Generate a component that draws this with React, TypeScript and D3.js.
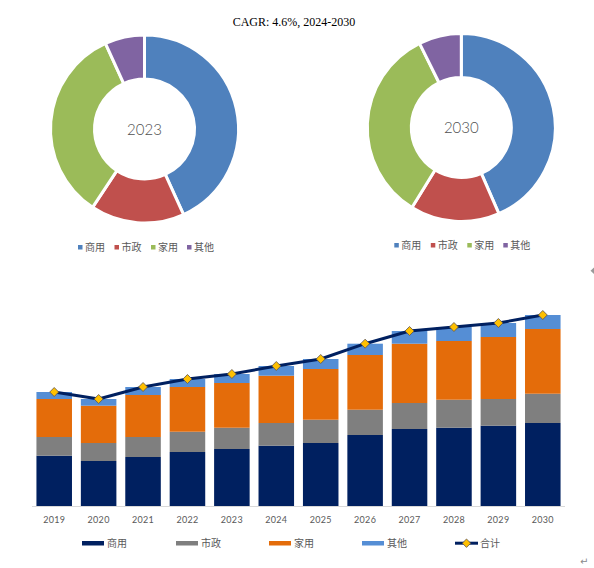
import React from "react";
import * as d3 from "d3";

const years = ["2019","2020","2021","2022","2023","2024","2025","2026","2027","2028","2029","2030"];
const commercial = [50.3, 45, 49, 54, 57, 60.3, 63, 71, 77, 78.3, 80.3, 83];
const municipal = [18.7, 18, 20, 20.3, 21.3, 22.7, 23.3, 25.3, 26, 28, 26.7, 29.3];
const household = [38, 37.3, 42, 44.7, 44.7, 47.3, 50.7, 54.7, 59.3, 58.7, 62, 64.7];
const others = [7, 6.7, 8, 8, 9, 9.7, 10, 11.3, 12.7, 14, 14, 14];
const seriesNames = ["商用", "市政", "家用", "其他"];
const totalName = "合计";
const title = "CAGR: 4.6%, 2024-2030";
const donutYears = ["2023", "2030"];

const barColors = ["#002060", "#7F7F7F", "#E46C0A", "#558ED5"];
const donutColors = ["#4F81BD", "#C0504D", "#9BBB59", "#8064A2"];

export default function App() {
  const series = [commercial, municipal, household, others];
  const totals = years.map((_, i) => series.reduce((s, a) => s + a[i], 0));

  const x = d3.scaleBand<string>().domain(years).range([32, 565]).paddingInner(0.2).paddingOuter(0.1);
  const y = d3.scaleLinear().domain([0, 200]).range([506, 306]);

  const rows = years.map((yr, i) => ({ yr, v: series.map(s => s[i]) }));
  const stack = d3.stack<any>().keys([0, 1, 2, 3] as any).value((d: any, k: any) => d.v[k]);
  const stacked = stack(rows);

  const line = d3.line<number>().x((_, i) => x(years[i])! + x.bandwidth() / 2).y(d => y(d));

  const pie = d3.pie<number>().sort(null).value(d => d);
  const arc = d3.arc<d3.PieArcDatum<number>>().innerRadius(50).outerRadius(94);

  const donuts = [
    { cx: 144.5, cy: 129, idx: years.indexOf(donutYears[0]), label: donutYears[0], legendX: 80, legendY: 247 },
    { cx: 461.3, cy: 127.5, idx: years.indexOf(donutYears[1]), label: donutYears[1], legendX: 396.3, legendY: 245 },
  ];
  const donutLegendOffsets = [0, 36.5, 73, 109];

  const bottomLegend = [
    { x: 82, name: seriesNames[0], color: barColors[0] },
    { x: 176, name: seriesNames[1], color: barColors[1] },
    { x: 269, name: seriesNames[2], color: barColors[2] },
    { x: 362, name: seriesNames[3], color: barColors[3] },
  ];

  return (
    <svg width={594} height={568} style={{ position: "absolute", left: 0, top: 0, background: "#fff" }}>
      <text x={294} y={26} textAnchor="middle" fontFamily="Liberation Serif" fontSize={12} fill="#000">{title}</text>

      {donuts.map((dn, di) => {
        const vals = series.map(s => s[dn.idx]);
        const arcs = pie(vals);
        return (
          <g key={di}>
            <g transform={`translate(${dn.cx},${dn.cy})`}>
              {arcs.map((a, i) => (
                <path key={i} d={arc(a)!} fill={donutColors[i]} stroke="#fff" strokeWidth={3} />
              ))}
              <text x={0} y={5.5} textAnchor="middle" fontFamily="Lato" fontWeight={300} fontSize={15} fill="#505050">{dn.label}</text>
            </g>
            {seriesNames.map((n, i) => (
              <g key={n} transform={`translate(${dn.legendX + donutLegendOffsets[i]},${dn.legendY})`}>
                <rect x={-2} y={-2} width={4.5} height={4.5} fill={donutColors[i]} />
                <text x={5} y={3.5} fontFamily="Noto Sans CJK SC" fontSize={10} fill="#595959">{n}</text>
              </g>
            ))}
          </g>
        );
      })}

      {stacked.map((layer, li) => (
        <g key={li} fill={barColors[li]}>
          {layer.map((d, i) => (
            <rect key={i} x={x(years[i])} y={y(d[1])} width={x.bandwidth()} height={y(d[0]) - y(d[1])} />
          ))}
        </g>
      ))}

      <line x1={32} x2={565} y1={506.5} y2={506.5} stroke="#D9D9D9" strokeWidth={1} />

      <path d={line(totals)!} fill="none" stroke="#002060" strokeWidth={3} strokeLinejoin="round" />
      {totals.map((t, i) => {
        const cx = x(years[i])! + x.bandwidth() / 2;
        const cy = y(t);
        return (
          <path key={i} d={`M${cx},${cy - 4.5}L${cx + 4.5},${cy}L${cx},${cy + 4.5}L${cx - 4.5},${cy}Z`} fill="#FFC000" stroke="#5a5050" strokeWidth={0.8} />
        );
      })}

      {years.map(yr => (
        <text key={yr} x={x(yr)! + x.bandwidth() / 2} y={523} textAnchor="middle" fontFamily="Lato" fontSize={9} letterSpacing={0.3} fill="#595959">{yr}</text>
      ))}

      {bottomLegend.map(l => (
        <g key={l.name}>
          <rect x={l.x} y={541} width={22} height={4.5} fill={l.color} />
          <text x={l.x + 25} y={547} fontFamily="Noto Sans CJK SC" fontSize={10} fill="#595959">{l.name}</text>
        </g>
      ))}
      <g>
        <line x1={455} x2={478} y1={543.2} y2={543.2} stroke="#002060" strokeWidth={3} />
        <path d="M466.5,539L470.7,543.2L466.5,547.4L462.3,543.2Z" fill="#FFC000" stroke="#5a5050" strokeWidth={0.8} />
        <text x={480} y={547} fontFamily="Noto Sans CJK SC" fontSize={10} fill="#595959">{totalName}</text>
      </g>

      <path d="M594,267.5L590.5,270.7L594,274Z" fill="#9a9a9a" />
      <text x={580} y={565} fontFamily="DejaVu Sans" fontSize={10} fill="#8a8a8a">↵</text>
    </svg>
  );
}
